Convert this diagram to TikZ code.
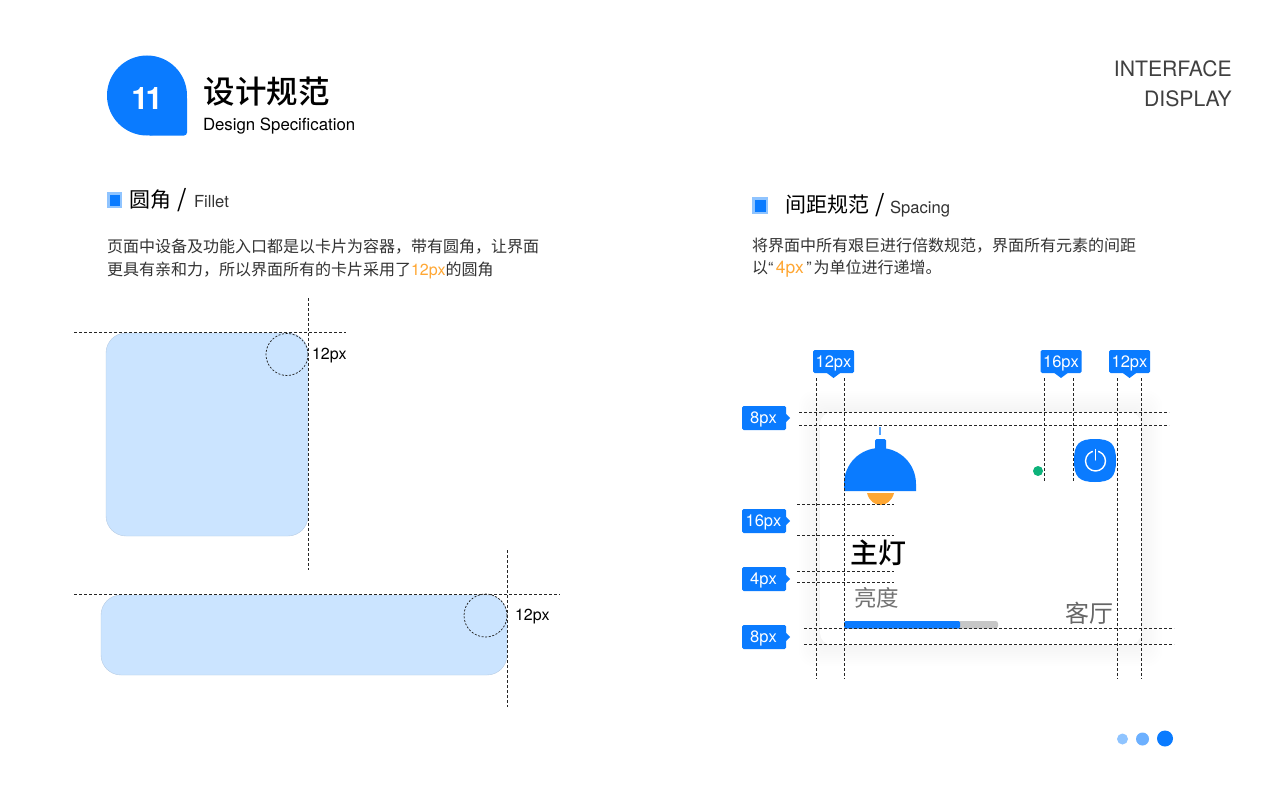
\documentclass[tikz,border=0pt]{standalone}
\usepackage{fontspec}
\setmainfont{TeX Gyre Heros}
\newfontfamily\cjk{Noto Sans CJK SC}
\newfontfamily\cjkm{Noto Sans CJK SC Medium}
\newcommand{\pxf}[1]{\fontsize{#1}{#1}\selectfont}
\definecolor{brand}{HTML}{0A7BFF}
\definecolor{cardblue}{HTML}{CBE4FF}
\definecolor{bulletedge}{HTML}{8FC4FF}
\definecolor{amber}{HTML}{FFA733}
\definecolor{bodytext}{HTML}{333333}
\definecolor{greendot}{HTML}{0DB27A}
\tikzset{
  txt/.style={inner sep=0pt,outer sep=0pt,anchor=west},
  guide/.style={draw=black!85,line width=0.75pt,dash pattern=on 3pt off 2pt},
  tagshape/.style={fill=brand,rounded corners=1.5pt},
  tagtext/.style={inner sep=0pt,text=white,font=\pxf{16.5}},
}
\begin{document}
\begin{tikzpicture}[x=1pt,y=-1pt]
\useasboundingbox (0,0) rectangle (1280,800);
\fill[white] (0,0) rectangle (1280,800);
% header
\fill[brand] (147,95.5) circle (40pt);
\fill[brand,rounded corners=3pt] (147,95.5) rectangle (187,135.5);
\node[inner sep=0pt,text=white,font=\pxf{31}\bfseries] (num) at (147,98.5) {1\hspace{-3pt}1};
\node[txt,font=\pxf{31.5}\cjkm,text=black] (title) at (203.5,91.5) {设计规范};
\node[txt,font=\pxf{16.8}] (titleen) at (203,126) {Design Specification};
\node[inner sep=0pt,anchor=east,font=\pxf{21.2},text=black!75] (if1) at (1232,69) {INTERFACE};
\node[inner sep=0pt,anchor=east,font=\pxf{21.2},text=black!75] (if2) at (1232,99) {DISPLAY};
% left heading
\fill[bulletedge] (107,192) rectangle (122,208);
\fill[brand] (109.5,194.5) rectangle (119.5,205.5);
\node[txt,font=\pxf{21}\cjk] (lh) at (129,200) {圆角};
\node[txt,font=\pxf{24}\cjk] (ls) at (177,200) {/};
\node[txt,font=\pxf{16.6},text=black!80] (le) at (194,202) {Fillet};
\node[txt,font=\pxf{16}\cjk,text=bodytext] (l1) at (107,247) {页面中设备及功能入口都是以卡片为容器，带有圆角，让界面};
\node[txt,font=\pxf{16}\cjk,text=bodytext] (l2) at (107,270) {更具有亲和力，所以界面所有的卡片采用了{\color{amber}\rmfamily 12px}的圆角};
% right heading
\fill[bulletedge] (752,197) rectangle (768,214);
\fill[brand] (754.5,199.5) rectangle (765.5,211.5);
\node[txt,font=\pxf{21}\cjk] (rh) at (785,205) {间距规范};
\node[txt,font=\pxf{24}\cjk] (rs) at (875,205) {/};
\node[txt,font=\pxf{16.6},text=black!80] (re) at (890,209) {Spacing};
\node[txt,font=\pxf{16}\cjk,text=bodytext] (r1) at (752,246) {将界面中所有艰巨进行倍数规范，界面所有元素的间距};
\node[txt,font=\pxf{16}\cjk,text=bodytext] (r2) at (752,269) {以{\rmfamily “\hspace{2.5pt}}{\color{amber}\rmfamily\pxf{17.4}4px}{\rmfamily\hspace{2.5pt}”}\hspace{2pt}为单位进行递增。};
% left cards
\draw[fill=cardblue,draw=cardblue!90!black,line width=0.4pt,rounded corners=20pt] (106,333) rectangle (308,536);
\draw[fill=cardblue,draw=cardblue!90!black,line width=0.4pt,rounded corners=20pt] (101,595) rectangle (507,675);
\draw[guide] (74,332.5) -- (346,332.5);
\draw[guide] (308.5,298) -- (308.5,570);
\draw[guide,dash pattern=on 2pt off 1.6pt] (287,354.5) circle (21pt);
\node[txt,font=\pxf{16}] (p1) at (312,356) {12px};
\draw[guide] (74,594.5) -- (560,594.5);
\draw[guide] (507,550) -- (507,707);
\draw[guide,dash pattern=on 2pt off 1.6pt] (485.5,615.5) circle (21.5pt);
\node[txt,font=\pxf{16}] (p2) at (515,617) {12px};
% shadow card
\foreach \e in {1,3,...,21}{
  \fill[black,opacity=0.0025,rounded corners=14pt] (820-\e,412-\e) rectangle (1141+\e,645+\e);
}
\fill[white,rounded corners=12pt] (820,412) rectangle (1141,645);
% lamp
\fill[brand!70] (879,427) rectangle (881,435);
\fill[brand,rounded corners=1.5pt] (875,439) rectangle (886,452);
\fill[brand] (844,491) -- (844,484) .. controls (844,464) and (860,448) .. (880,448) .. controls (900,448) and (916,464) .. (916,484) -- (916,491) -- cycle;
\fill[amber] (867,493) .. controls (869,501) and (875,505) .. (880.5,505) .. controls (886,505) and (892,501) .. (894,493) -- cycle;
% green dot
\fill[greendot] (1038,471) circle (5pt);
% power
\fill[brand] (1095,439) .. controls (1111,439) and (1116,444) .. (1116,460.5) .. controls (1116,477) and (1111,482) .. (1095,482) .. controls (1079,482) and (1074,477) .. (1074,460.5) .. controls (1074,444) and (1079,439) .. (1095,439) -- cycle;
\draw[white,line width=1.4pt] (1095.5,461) circle (10pt);
\draw[brand,line width=5pt] (1095.5,449) -- (1095.5,454);
\draw[white,line width=1.4pt,line cap=round] (1095.5,449.5) -- (1095.5,460);
% labels in card
\node[inner sep=0pt,font=\pxf{28}\cjkm,text=black] (zd) at (878.5,553) {主灯};
\node[inner sep=0pt,font=\pxf{22.5}\cjk,text=black!55] (ld) at (876.5,598) {亮度};
\node[inner sep=0pt,font=\pxf{24}\cjk,text=black!60] (kt) at (1089.5,613) {客厅};
% slider
\fill[black!22,rounded corners=2.5pt] (900,621) rectangle (998,628.5);
\fill[brand,rounded corners=1.5pt] (844,621) rectangle (960,628.5);
% guides
\foreach \gx in {816.5,844.5,1117.5,1141.5}{\draw[guide] (\gx,378) -- (\gx,679);}
\foreach \gx in {1044.5,1073.5}{\draw[guide] (\gx,378) -- (\gx,482);}
\foreach \gy in {412,425.5}{\draw[guide] (799,\gy) -- (1169,\gy);}
\foreach \gy in {504.5,535,571,582}{\draw[guide] (797,\gy) -- (894,\gy);}
\foreach \gy in {628.5,644.5}{\draw[guide] (804,\gy) -- (1174,\gy);}
% top tags
\foreach \tx/\nm/\lab in {833.5/ta/12px,1061/tb/16px,1129.5/tc/12px}{
  \fill[tagshape] (\tx-20.5,350) rectangle (\tx+20.5,373);
  \fill[brand] (\tx-8,372) -- (\tx+8,372) -- (\tx,378) -- cycle;
  \node[tagtext] (\nm) at (\tx,363.5) {\lab};
}
% left tags
\foreach \ty/\nm/\lab in {418/la/8px,521/lb/16px,579/lc/4px,637/ld2/8px}{
  \fill[tagshape] (742,\ty-12) rectangle (786,\ty+12);
  \fill[brand] (785,\ty-5) -- (785,\ty+5) -- (790,\ty) -- cycle;
  \node[tagtext] (\nm) at (763.5,\ty+1.5) {\lab};
}
% pagination
\fill[bulletedge] (1122.5,739) circle (5.5pt);
\fill[brand!60] (1142.5,739) circle (6.5pt);
\fill[brand] (1165,738.5) circle (8pt);
\end{tikzpicture}
\end{document}
